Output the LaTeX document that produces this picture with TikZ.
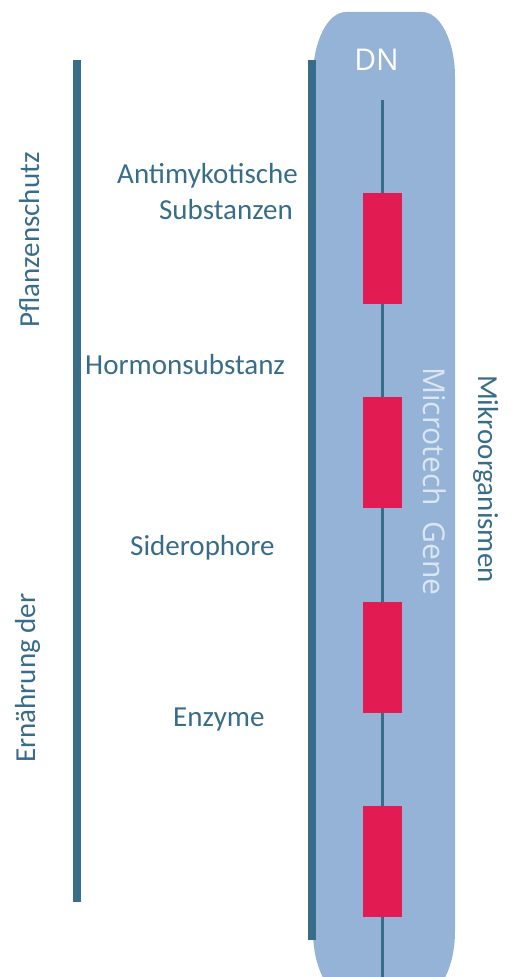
\documentclass[tikz,border=0pt]{standalone}
\usepackage{fontspec}
\setmainfont{Carlito}
\newfontfamily\opensans{Open Sans}
\definecolor{teal1}{HTML}{386D8A}
\definecolor{dnablue}{HTML}{95B3D7}
\definecolor{genered}{HTML}{E31B53}
\definecolor{paleblue}{HTML}{DCE6F2}
\begin{document}
\begin{tikzpicture}[x=1pt,y=1pt,
  lbl/.style={text=teal1,font=\fontsize{29}{35}\selectfont,inner sep=0pt},
  genebox/.style={fill=genered,draw=none,minimum width=39pt,minimum height=111pt,inner sep=0pt},
  strand/.style={draw=teal1,line width=3pt},
  bar/.style={fill=teal1,draw=none}]
\useasboundingbox (0,0) rectangle (514,977);
% DNA body
\fill[dnablue] (313,900) arc[start angle=180,end angle=90,x radius=33,y radius=65]
  -- (422,965) arc[start angle=90,end angle=0,x radius=33,y radius=65]
  -- (455,46) arc[start angle=0,end angle=-90,x radius=33,y radius=65]
  -- (346,-19) arc[start angle=270,end angle=180,x radius=33,y radius=65] -- cycle;
% bars
\fill[bar] (73,917) rectangle (81,75);
\fill[bar] (308,917) rectangle (316,37);
% genes
\node[genebox] (g1) at (382.5,728.5) {};
\node[genebox] (g2) at (382.5,524.5) {};
\node[genebox] (g3) at (382.5,319.5) {};
\node[genebox] (g4) at (382.5,115.5) {};
\coordinate (top) at (382.5,877);
\coordinate (bot) at (382.5,-5);
\draw[strand] (top) -- (g1.north);
\draw[strand] (g1.south) -- (g2.north);
\draw[strand] (g2.south) -- (g3.north);
\draw[strand] (g3.south) -- (g4.north);
\draw[strand] (g4.south) -- (bot);
% labels
\node[lbl,text=white,font=\opensans\fontsize{30}{36}\selectfont,anchor=base] (dn) at (376.5,906) {DN};
\node[lbl,anchor=base east] (anti) at (298,793) {Antimykotische};
\node[lbl,anchor=base east] (subst) at (293,757) {Substanzen};
\node[lbl,anchor=base west] (horm) at (85,602) {Hormonsubstanz};
\node[lbl,anchor=base west] (sid) at (130,421) {Siderophore};
\node[lbl,anchor=base west] (enz) at (173,250) {Enzyme};
\node[lbl,anchor=base west,rotate=90] (pfl) at (39,649) {Pflanzenschutz};
\node[lbl,anchor=base west,rotate=90] (ern) at (35,214) {Ernährung der};
\node[lbl,anchor=base west,rotate=-90] (mik) at (478,602) {Mikroorganismen};
\node[lbl,text=paleblue,font=\opensans\fontsize{30}{36}\selectfont,anchor=base west,rotate=-90] (mic) at (423,610) {Microtech\ \ Gene};
\end{tikzpicture}
\end{document}
